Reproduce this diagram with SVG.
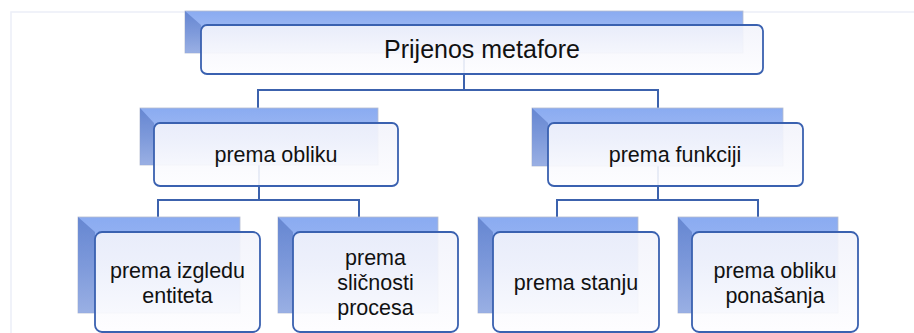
<svg xmlns="http://www.w3.org/2000/svg" width="914" height="333" viewBox="0 0 914 333">
<defs>
<linearGradient id="backG" x1="0" y1="0" x2="0" y2="1">
<stop offset="0" stop-color="#8aabf1"/>
<stop offset="0.5" stop-color="#9fb9f3"/>
<stop offset="1" stop-color="#d6e0f8"/>
</linearGradient>
<linearGradient id="sideG" x1="0" y1="0" x2="0" y2="1">
<stop offset="0" stop-color="#5f80cc"/>
<stop offset="1" stop-color="#8fa7e0"/>
</linearGradient>
<linearGradient id="frontG" x1="0" y1="0" x2="0" y2="1">
<stop offset="0" stop-color="#f2f3fb"/>
<stop offset="1" stop-color="#fdfdff"/>
</linearGradient>
<filter id="soft" x="-5%" y="-5%" width="110%" height="110%">
<feGaussianBlur stdDeviation="0.7"/>
</filter>
</defs>
<style>
.back{fill:url(#backG);stroke:#b4bccf;stroke-width:0.8}
.side{fill:url(#sideG);opacity:0.85}
.front{fill:url(#frontG);fill-opacity:0.9;stroke:#3a61b0;stroke-width:1.8}
.conn{fill:none;stroke:#3c62ad;stroke-width:2}
.t{font-family:"Liberation Sans",Arial,sans-serif;font-size:21.5px;fill:#111;text-anchor:middle}
.tt{font-size:25px}
.frame{fill:none;stroke:#eceef8;stroke-width:1.5}
</style>
<path class="frame" d="M11,333 V12 H914"/>
<g id="connectors">
<path class="conn" d="M464,53 V90 M258,108 V90 H658 V108"/>
<path class="conn" d="M259,165 V200 M158,217 V200 H359 V217"/>
<path class="conn" d="M658,166 V200 M557,217 V200 H758 V217"/>
</g>
<g id="n-root">
<g filter="url(#soft)">
<rect class="back" x="185" y="11" width="558" height="42"/>
<polygon class="side" points="185,11 201,25 201,53 185,53"/>
</g>
<rect class="front" x="201" y="25" width="562" height="49" rx="6"/>
<text class="t tt" x="482" y="58">Prijenos metafore</text>
</g>
<g id="n-oblik">
<g filter="url(#soft)">
<rect class="back" x="140" y="108" width="238" height="57"/>
<polygon class="side" points="140,108 154,123 154,165 140,165"/>
</g>
<rect class="front" x="154" y="123" width="244" height="63" rx="6"/>
<text class="t" x="276" y="162">prema obliku</text>
</g>
<g id="n-funkcija">
<g filter="url(#soft)">
<rect class="back" x="532" y="108" width="251" height="58"/>
<polygon class="side" points="532,108 548,123 548,166 532,166"/>
</g>
<rect class="front" x="548" y="123" width="255" height="63" rx="6"/>
<text class="t" x="675" y="162">prema funkciji</text>
</g>
<g id="n-izgled">
<g filter="url(#soft)">
<rect class="back" x="78" y="217" width="162" height="96"/>
<polygon class="side" points="78,217 95,232 95,313 78,313"/>
</g>
<rect class="front" x="95" y="232" width="165" height="100" rx="7"/>
<text class="t" x="177.5" y="278">prema izgledu</text>
<text class="t" x="177.5" y="303">entiteta</text>
</g>
<g id="n-proces">
<g filter="url(#soft)">
<rect class="back" x="278" y="217" width="160" height="96"/>
<polygon class="side" points="278,217 293,232 293,313 278,313"/>
</g>
<rect class="front" x="293" y="232" width="165" height="100" rx="7"/>
<text class="t" x="375.5" y="265">prema</text>
<text class="t" x="375.5" y="290">sličnosti</text>
<text class="t" x="375.5" y="315">procesa</text>
</g>
<g id="n-stanje">
<g filter="url(#soft)">
<rect class="back" x="478" y="217" width="160" height="96"/>
<polygon class="side" points="478,217 493,232 493,313 478,313"/>
</g>
<rect class="front" x="493" y="232" width="166" height="100" rx="7"/>
<text class="t" x="576" y="290">prema stanju</text>
</g>
<g id="n-ponasanje">
<g filter="url(#soft)">
<rect class="back" x="678" y="217" width="160" height="96"/>
<polygon class="side" points="678,217 692,232 692,313 678,313"/>
</g>
<rect class="front" x="692" y="232" width="166" height="100" rx="7"/>
<text class="t" x="775" y="278">prema obliku</text>
<text class="t" x="775" y="303">ponašanja</text>
</g>
</svg>
